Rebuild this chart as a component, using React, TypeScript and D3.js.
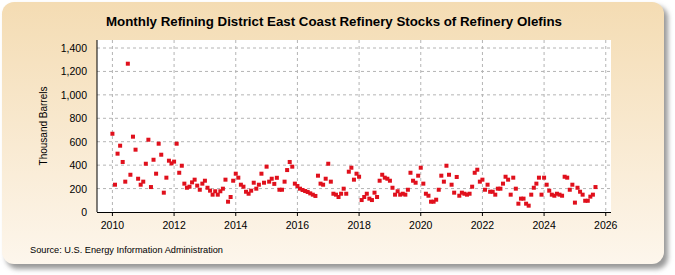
import React, { useRef, useEffect } from 'react';
import * as d3 from 'd3';

// monthly stocks, thousand barrels, starting Jan 2010
const startYear = 2010;
const stocks = [
  668, 233, 498, 566, 427, 259, 1266, 318, 643, 532, 284, 233, // 2010
  259, 412, 617, 213, 446, 327, 583, 489, 165, 293, 438, 415, // 2011
  430, 583, 335, 395, 242, 207, 216, 253, 276, 225, 190, 242, // 2012
  267, 207, 182, 148, 177, 148, 177, 199, 276, 88, 128, 267, // 2013
  327, 293, 233, 216, 173, 156, 182, 250, 199, 233, 327, 250, // 2014
  387, 259, 284, 240, 292, 190, 190, 259, 358, 427, 387, 242, // 2015
  222, 199, 188, 179, 171, 159, 148, 137, 310, 242, 233, 284, // 2016
  412, 259, 156, 148, 128, 156, 199, 156, 344, 378, 276, 327, // 2017
  301, 102, 128, 156, 114, 102, 165, 128, 267, 318, 293, 284, // 2018
  267, 207, 148, 177, 148, 156, 148, 190, 335, 267, 250, 310, // 2019
  378, 242, 156, 139, 88, 88, 105, 190, 310, 259, 395, 318, // 2020
  233, 165, 299, 139, 165, 156, 148, 156, 216, 335, 361, 259, // 2021
  276, 190, 233, 173, 173, 148, 199, 199, 242, 301, 276, 148, // 2022
  293, 199, 71, 114, 114, 71, 54, 148, 207, 242, 293, 148, // 2023
  293, 233, 182, 148, 139, 156, 148, 139, 301, 293, 190, 233, // 2024
  80, 207, 173, 148, 96, 96, 131, 148, 213, // 2025
];

const yearTicks = [2010, 2012, 2014, 2016, 2018, 2020, 2022, 2024, 2026];
const valueTicks = [0, 200, 400, 600, 800, 1000, 1200, 1400];

const title = 'Monthly Refining District East Coast Refinery Stocks of Refinery Olefins';
const yLabel = 'Thousand Barrels';
const source = 'Source: U.S. Energy Information Administration';

const W = 675;
const H = 275;
const plot = { left: 97, right: 611, top: 40, bottom: 212 };

export default function App() {
  const svgRef = useRef<SVGSVGElement | null>(null);

  useEffect(() => {
    const svg = d3.select(svgRef.current);
    svg.selectAll('*').remove();

    const x = d3.scaleLinear().domain([2009.5, 2026.17]).range([plot.left, plot.right]);
    const y = d3.scaleLinear().domain([0, 1400]).range([plot.bottom, 48]);

    const defs = svg.append('defs');
    const bg = defs.append('linearGradient')
      .attr('id', 'panelGrad')
      .attr('x1', '0%').attr('y1', '0%')
      .attr('x2', '0%').attr('y2', '100%');
    bg.append('stop').attr('offset', '0%').attr('stop-color', '#f4dcb3');
    bg.append('stop').attr('offset', '100%').attr('stop-color', '#fdf6ec');

    const shadow = defs.append('filter').attr('id', 'panelShadow')
      .attr('x', '-5%').attr('y', '-5%').attr('width', '110%').attr('height', '115%');
    shadow.append('feGaussianBlur').attr('stdDeviation', 2.5);

    // panel with soft shadow
    svg.append('rect')
      .attr('x', 6).attr('y', 6)
      .attr('width', 662).attr('height', 263)
      .attr('rx', 12)
      .attr('fill', '#9a9a9a')
      .attr('filter', 'url(#panelShadow)');
    svg.append('rect')
      .attr('x', 2).attr('y', 2)
      .attr('width', 662).attr('height', 262)
      .attr('rx', 12)
      .attr('fill', 'url(#panelGrad)');

    // plot background
    svg.append('rect')
      .attr('x', plot.left).attr('y', plot.top)
      .attr('width', plot.right - plot.left)
      .attr('height', plot.bottom - plot.top)
      .attr('fill', '#ffffff');

    const g = svg.append('g');

    // grid
    valueTicks.filter(t => t > 0).forEach(t => {
      g.append('line')
        .attr('x1', plot.left).attr('x2', plot.right)
        .attr('y1', y(t)).attr('y2', y(t))
        .attr('stroke', '#b4b4b4')
        .attr('stroke-dasharray', '3,3');
    });
    yearTicks.forEach(t => {
      g.append('line')
        .attr('x1', x(t)).attr('x2', x(t))
        .attr('y1', plot.top).attr('y2', plot.bottom)
        .attr('stroke', '#b4b4b4')
        .attr('stroke-dasharray', '3,3');
    });

    // axes
    g.append('line')
      .attr('x1', plot.left).attr('x2', plot.left)
      .attr('y1', plot.top).attr('y2', plot.bottom)
      .attr('stroke', '#000');
    g.append('line')
      .attr('x1', plot.left).attr('x2', plot.right)
      .attr('y1', plot.bottom + 0.5).attr('y2', plot.bottom + 0.5)
      .attr('stroke', '#000');
    yearTicks.forEach(t => {
      g.append('line')
        .attr('x1', x(t)).attr('x2', x(t))
        .attr('y1', plot.bottom).attr('y2', plot.bottom + 4)
        .attr('stroke', '#000');
      g.append('text')
        .attr('x', x(t)).attr('y', plot.bottom + 17)
        .attr('text-anchor', 'middle')
        .attr('font-family', 'Liberation Sans, Arial, sans-serif')
        .attr('font-size', '10.5px')
        .attr('fill', '#000')
        .text(String(t));
    });
    valueTicks.forEach(t => {
      g.append('text')
        .attr('x', plot.left - 10).attr('y', y(t))
        .attr('text-anchor', 'end')
        .attr('dominant-baseline', 'central')
        .attr('font-family', 'Liberation Sans, Arial, sans-serif')
        .attr('font-size', '10.5px')
        .attr('fill', '#000')
        .text(d3.format(',')(t));
    });

    // points
    const s = 4;
    stocks.forEach((v, i) => {
      const t = startYear + i / 12;
      g.append('rect')
        .attr('x', x(t) - s / 2).attr('y', y(v) - s / 2)
        .attr('width', s).attr('height', s)
        .attr('fill', '#e0101c');
    });

    // texts
    svg.append('text')
      .attr('x', 334).attr('y', 26)
      .attr('text-anchor', 'middle')
      .attr('font-family', 'Liberation Sans Narrow, Arial Narrow, Liberation Sans, Arial, sans-serif')
      .attr('font-weight', 'bold')
      .attr('font-size', '13px')
      .attr('textLength', 456)
      .attr('lengthAdjust', 'spacingAndGlyphs')
      .attr('fill', '#000')
      .text(title);

    svg.append('text')
      .attr('transform', `translate(47, ${(plot.top + plot.bottom) / 2}) rotate(-90)`)
      .attr('text-anchor', 'middle')
      .attr('font-family', 'Liberation Sans, Arial, sans-serif')
      .attr('font-size', '10px')
      .attr('fill', '#000')
      .text(yLabel);

    svg.append('text')
      .attr('x', 30).attr('y', 253)
      .attr('font-family', 'Liberation Sans, Arial, sans-serif')
      .attr('font-size', '9.5px')
      .attr('textLength', 193)
      .attr('lengthAdjust', 'spacingAndGlyphs')
      .attr('fill', '#000')
      .text(source);
  }, []);

  return (
    <svg
      ref={svgRef}
      width={W}
      height={H}
      style={{ position: 'absolute', left: 0, top: 0, display: 'block' }}
    />
  );
}
